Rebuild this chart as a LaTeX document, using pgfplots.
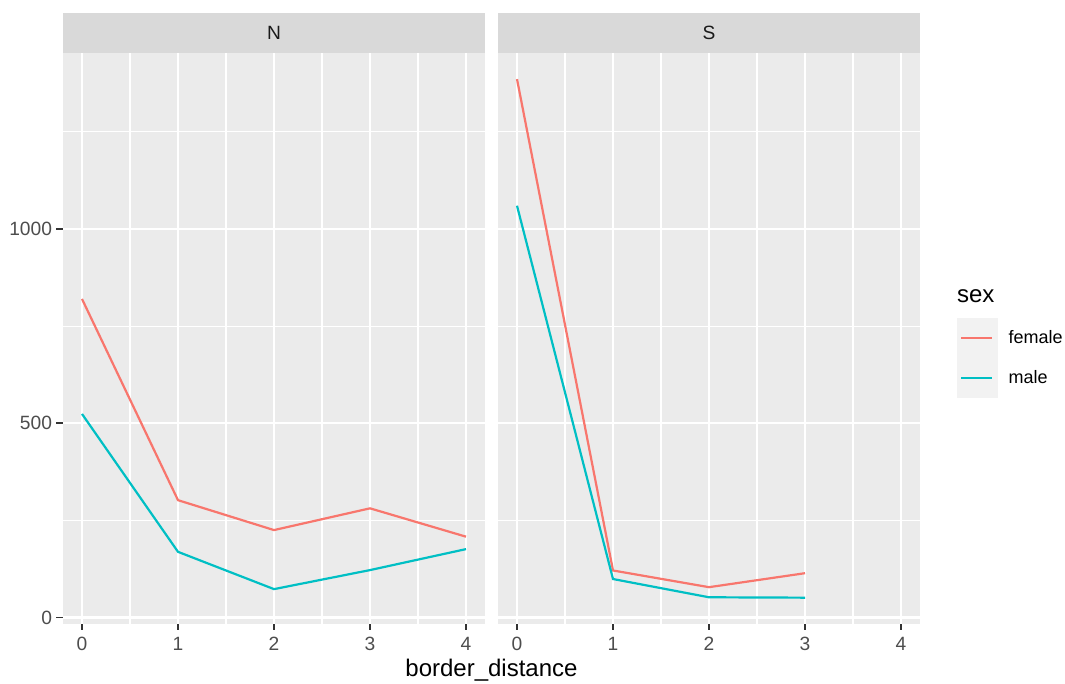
\documentclass[border=0pt]{standalone}
\usepackage{fontspec}
\setmainfont{Liberation Sans}
\usepackage{pgfplots}
\pgfplotsset{compat=1.18}
\definecolor{panelbg}{HTML}{EBEBEB}
\definecolor{stripbg}{HTML}{D9D9D9}
\definecolor{keybg}{HTML}{F2F2F2}
\definecolor{tickcol}{HTML}{333333}
\definecolor{labcol}{HTML}{4D4D4D}
\definecolor{striptext}{HTML}{1A1A1A}
\definecolor{fem}{HTML}{F8766D}
\definecolor{mal}{HTML}{00BFC4}

\pgfplotsset{
  facet/.style={
    anchor=south west,
    scale only axis,
    width=211.2pt, height=285.2pt,
    xmin=-0.2, xmax=4.2,
    ymin=-15.75, ymax=1452.75,
    axis background/.style={fill=panelbg},
    axis line style={draw=none},
    xtick={0,1,2,3,4}, xticklabels={0,1,2,3,4},
    ytick={0,500,1000},
    minor xtick={0.5,1.5,2.5,3.5},
    minor ytick={250,750,1250},
    grid=both,
    major grid style={white, line width=1.1pt},
    minor grid style={white, line width=0.55pt},
    tick align=outside,
    tick pos=left,
    major tick length=3.2pt,
    minor tick length=0pt,
    tick style={tickcol, line width=0.9pt},
    /pgf/number format/assume math mode=true,
    tick label style={font=\fontsize{9.6}{9.6}\selectfont, text=labcol, inner sep=0pt},
    xticklabel style={yshift=-3.2pt},
    yticklabel style={xshift=-2pt},
    every axis plot/.append style={line width=1.1pt, mark=none},
  }
}

\begin{document}
\begin{tikzpicture}[x=1pt,y=1pt]
\useasboundingbox (0,0) rectangle (532.5,342);

\begin{axis}[facet, name=N, at={(31.4pt,30.2pt)},
  yticklabels={0,500,1000}]
\addplot[fem] coordinates {(0,820) (1,302) (2,225) (3,281) (4,208)};
\addplot[mal] coordinates {(0,524) (1,169) (2,73) (3,122) (4,176)};
\end{axis}

\begin{axis}[facet, name=S, at={(248.9pt,30.2pt)},
  yticklabels={}, ytick style={draw=none},
  legend style={at={(1.0871,0.5358)}, anchor=north west, draw=none, fill=none,
    inner sep=0pt, outer sep=0pt, row sep=0pt, column sep=5.2pt,
    nodes={inner sep=0pt, anchor=west, font=\fontsize{9}{9}\selectfont, text=black}},
  legend cell align=left,
  legend image code/.code={
    \fill[keybg] (0pt,-9.5pt) rectangle (19.5pt,9.5pt);
    \draw[#1] (1.5pt,0pt) -- (17pt,0pt);
  }]
\addplot[fem] coordinates {(0,1386) (1,121) (2,78) (3,114)};
\addlegendentry{female}
\addplot[mal] coordinates {(0,1060) (1,99) (2,52) (3,51)};
\addlegendentry{male}
\end{axis}

% facet strips
\fill[stripbg] (N.north west) rectangle ([yshift=20pt]N.north east);
\node[font=\fontsize{9.6}{9.6}\selectfont, text=striptext] at ([yshift=10pt]N.north) {N};
\fill[stripbg] (S.north west) rectangle ([yshift=20pt]S.north east);
\node[font=\fontsize{9.6}{9.6}\selectfont, text=striptext] at ([yshift=10pt]S.north) {S};

% legend title and x label
\node[anchor=base west, inner sep=0pt, font=\fontsize{12}{12}\selectfont] at (478.3,190.5) {sex};
\node[anchor=base, inner sep=0pt, font=\fontsize{12}{12}\selectfont] at (245.75,3.5) {border\_distance};
\end{tikzpicture}
\end{document}
